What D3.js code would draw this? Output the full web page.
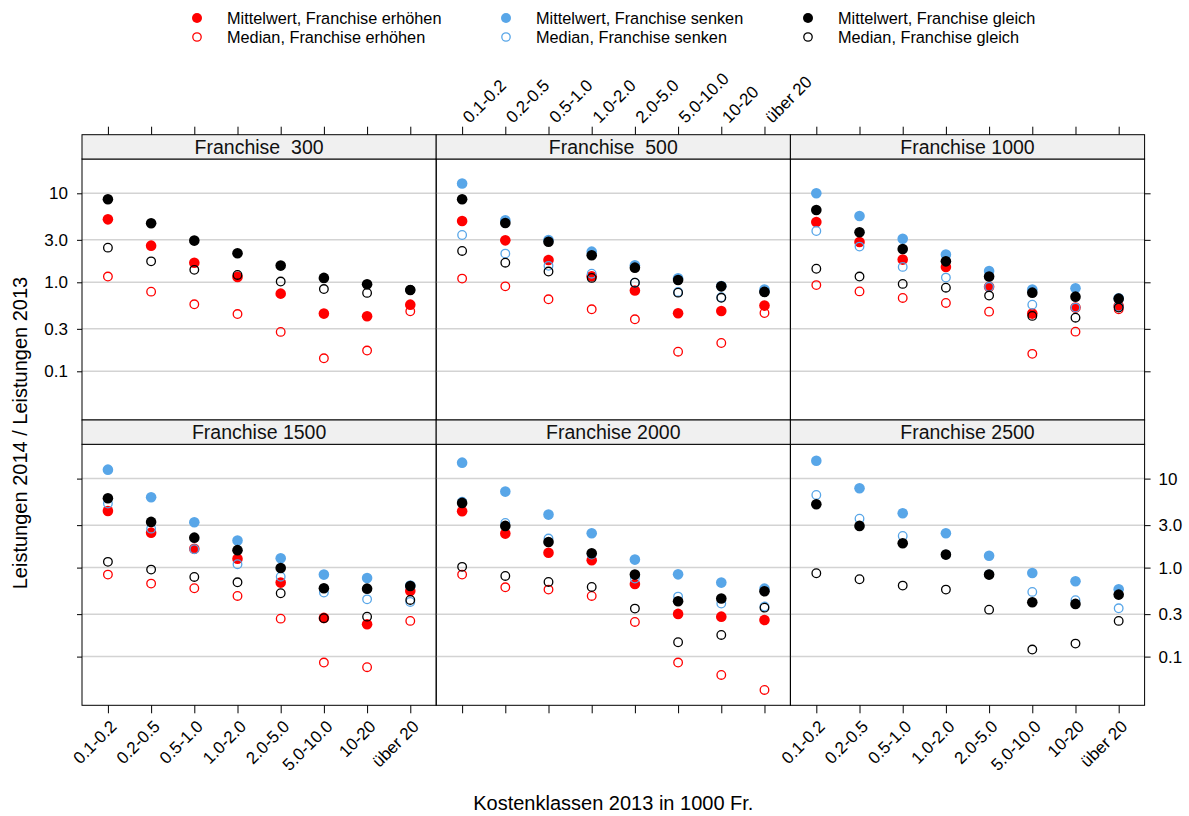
<!DOCTYPE html>
<html>
<head>
<meta charset="utf-8">
<script src="https://cdn.jsdelivr.net/npm/d3@7"></script>
<style>
  html, body { margin: 0; padding: 0; background: #fff; }
  svg { display: block; font-family: "Liberation Sans", Arial, Helvetica, sans-serif; }
</style>
</head>
<body>
<svg id="chart" width="1189" height="816"></svg>
<script>
// Cost classes 2013 (in 1000 Fr.) and franchise levels
const classes = ["0.1-0.2", "0.2-0.5", "0.5-1.0", "1.0-2.0", "2.0-5.0", "5.0-10.0", "10-20", "über 20"];
const franchises = [300, 500, 1000, 1500, 2000, 2500];
const stripLabels = ["Franchise  300", "Franchise  500", "Franchise 1000", "Franchise 1500", "Franchise 2000", "Franchise 2500"];
const yTicks = [10, 3, 1, 0.3, 0.1];
const yTickLabels = ["10", "3.0", "1.0", "0.3", "0.1"];

// Ratio Leistungen 2014 / 2013, one row per franchise (null = group not present)
const meanUp = [
  [5.1, 2.58, 1.66, 1.15, 0.746, 0.445, 0.415, 0.561],
  [4.89, 2.96, 1.78, 1.17, 0.81, 0.449, 0.476, 0.547],
  [4.76, 2.84, 1.80, 1.49, 0.89, 0.445, 0.52, 0.54],
  [4.33, 2.47, 1.63, 1.26, 0.678, 0.272, 0.231, 0.547],
  [4.3, 2.41, 1.47, 1.21, 0.655, 0.302, 0.281, 0.258],
  null
];
const medianUp = [
  [1.16, 0.785, 0.566, 0.44, 0.277, 0.14, 0.171, 0.472],
  [1.1, 0.90, 0.644, 0.497, 0.384, 0.166, 0.208, 0.452],
  [0.93, 0.79, 0.667, 0.586, 0.468, 0.157, 0.279, 0.497],
  [0.834, 0.661, 0.586, 0.48, 0.267, 0.0857, 0.076, 0.252],
  [0.834, 0.601, 0.566, 0.48, 0.245, 0.0857, 0.0622, 0.0422],
  null
];
const meanDown = [
  null,
  [12.9, 4.97, 2.99, 2.21, 1.55, 1.11, 0.91, 0.83],
  [10.0, 5.56, 3.09, 2.05, 1.34, 0.83, 0.856, 0.66],
  [12.6, 6.17, 3.23, 2.01, 1.27, 0.834, 0.765, 0.63],
  [15.1, 7.14, 3.94, 2.43, 1.23, 0.84, 0.678, 0.58],
  [15.9, 7.79, 4.08, 2.43, 1.36, 0.871, 0.702, 0.571]
];
const medianDown = [
  null,
  [3.4, 2.1, 1.53, 1.25, 0.99, 0.78, 0.68, 0.80],
  [3.77, 2.52, 1.49, 1.13, 0.89, 0.56, 0.52, 0.53],
  [5.24, 2.74, 1.61, 1.09, 0.79, 0.524, 0.44, 0.411],
  [5.51, 3.18, 2.12, 1.40, 0.752, 0.472, 0.394, 0.365],
  [6.55, 3.55, 2.27, 1.40, 0.84, 0.533, 0.43, 0.349]
];
const meanSame = [
  [8.56, 4.6, 2.94, 2.12, 1.54, 1.12, 0.95, 0.82],
  [8.56, 4.64, 2.86, 2.01, 1.46, 1.06, 0.90, 0.78],
  [6.5, 3.65, 2.37, 1.72, 1.16, 0.765, 0.69, 0.655],
  [6.01, 3.26, 2.17, 1.57, 0.99, 0.586, 0.58, 0.622],
  [5.33, 2.94, 1.94, 1.45, 0.834, 0.418, 0.449, 0.542],
  [5.15, 2.94, 1.88, 1.40, 0.834, 0.408, 0.391, 0.497]
];
const medianSame = [
  [2.45, 1.72, 1.38, 1.21, 1.02, 0.84, 0.76, 0.82],
  [2.25, 1.66, 1.32, 1.12, 0.99, 0.765, 0.67, 0.78],
  [1.42, 1.16, 0.96, 0.87, 0.71, 0.419, 0.40, 0.52],
  [1.16, 0.95, 0.785, 0.684, 0.515, 0.27, 0.281, 0.433],
  [1.02, 0.806, 0.69, 0.606, 0.346, 0.145, 0.175, 0.355],
  [0.864, 0.74, 0.628, 0.566, 0.337, 0.12, 0.14, 0.252]
];

const red = "#FF0000", blue = "#58A6E8", black = "#000000";

// Drawing order of the groups (later ones on top)
const series = [
  { name: "Mittelwert, Franchise erhöhen", values: meanUp, color: red, filled: true },
  { name: "Median, Franchise erhöhen", values: medianUp, color: red, filled: false },
  { name: "Mittelwert, Franchise senken", values: meanDown, color: blue, filled: true },
  { name: "Median, Franchise senken", values: medianDown, color: blue, filled: false },
  { name: "Mittelwert, Franchise gleich", values: meanSame, color: black, filled: true },
  { name: "Median, Franchise gleich", values: medianSame, color: black, filled: false }
];

const svg = d3.select("#chart");

// Panel geometry
const left = 82, colW = 354.2, stripH = 24.3, panelH = 261, top0 = 134.7;
const rowTop = r => top0 + r * (stripH + panelH);

const x = d3.scalePoint().domain(classes).range([0, colW]).padding(0.6);
const y = d3.scaleLog()
  .domain([Math.pow(10, -(panelH - 123.3) / 89), Math.pow(10, 123.3 / 89)])
  .range([panelH, 0]);

const rFilled = 5.3, rOpen = 4.3;
const tickFont = 17;

function styleAxis(g) {
  g.select(".domain").remove();
  g.selectAll(".tick line").attr("stroke", "#000").attr("stroke-width", 1);
  g.selectAll(".tick text").attr("fill", "#000").attr("font-size", tickFont)
    .attr("font-family", "'Liberation Sans', Arial, sans-serif");
}

franchises.forEach((f, i) => {
  const col = i % 3, row = Math.floor(i / 3);
  const px = left + col * colW;
  const sy = rowTop(row);
  const py = sy + stripH;

  const g = svg.append("g").attr("transform", `translate(${px},${py})`);

  // grid lines at the labelled ticks
  g.selectAll("line.grid").data(yTicks).join("line")
    .attr("class", "grid")
    .attr("x1", 0).attr("x2", colW)
    .attr("y1", d => y(d)).attr("y2", d => y(d))
    .attr("stroke", "#d3d3d3").attr("stroke-width", 1.5);

  // points
  series.forEach(s => {
    const vals = s.values[i];
    if (!vals) return;
    g.selectAll(null).data(vals.map((v, k) => ({ c: classes[k], v }))).join("circle")
      .attr("cx", d => x(d.c))
      .attr("cy", d => y(d.v))
      .attr("r", s.filled ? rFilled : rOpen)
      .attr("fill", s.filled ? s.color : "none")
      .attr("stroke", s.color)
      .attr("stroke-width", s.filled ? 0 : 1.3);
  });

  // panel border
  g.append("rect").attr("x", 0).attr("y", 0).attr("width", colW).attr("height", panelH)
    .attr("fill", "none").attr("stroke", "#000").attr("stroke-width", 1);

  // strip
  const st = svg.append("g").attr("transform", `translate(${px},${sy})`);
  st.append("rect").attr("width", colW).attr("height", stripH)
    .attr("fill", "#f0f0f0").attr("stroke", "#000").attr("stroke-width", 1);
  st.append("text").attr("x", colW / 2).attr("y", stripH / 2 + 7)
    .attr("text-anchor", "middle").attr("font-size", 19.5).attr("fill", "#111")
    .style("white-space", "pre")
    .text(stripLabels[i]);

  // left axis (left column)
  if (col === 0) {
    const ax = g.append("g").call(d3.axisLeft(y).tickValues(yTicks).tickSize(5).tickPadding(9)
      .tickFormat((d, k) => row === 0 ? yTickLabels[k] : ""));
    styleAxis(ax);
  }
  // right axis (right column)
  if (col === 2) {
    const ax = g.append("g").attr("transform", `translate(${colW},0)`)
      .call(d3.axisRight(y).tickValues(yTicks).tickSize(6).tickPadding(8)
        .tickFormat((d, k) => row === 1 ? yTickLabels[k] : ""));
    styleAxis(ax);
  }
  // top axis (top row, above strip)
  if (row === 0) {
    const ax = svg.append("g").attr("transform", `translate(${px},${sy})`)
      .call(d3.axisTop(x).tickSize(8).tickFormat(""));
    styleAxis(ax);
    if (col === 1) {
      ax.selectAll(".tick").append("text")
        .attr("transform", "translate(3,-15) rotate(-45)")
        .attr("text-anchor", "start")
        .attr("dy", "0.35em")
        .attr("font-size", tickFont).attr("fill", "#000")
        .text(d => d);
    }
  }
  // bottom axis (bottom row)
  if (row === 1) {
    const ax = g.append("g").attr("transform", `translate(0,${panelH})`)
      .call(d3.axisBottom(x).tickSize(8).tickFormat(""));
    styleAxis(ax);
    if (col !== 1) {
      ax.selectAll(".tick").append("text")
        .attr("transform", "translate(5,18) rotate(-45)")
        .attr("text-anchor", "end")
        .attr("dy", "0.35em")
        .attr("font-size", tickFont).attr("fill", "#000")
        .text(d => d);
    }
  }
});

// axis titles
svg.append("text").attr("x", left + 1.5 * colW).attr("y", 810)
  .attr("text-anchor", "middle").attr("font-size", 20).text("Kostenklassen 2013 in 1000 Fr.");
svg.append("text").attr("transform", "translate(27,433) rotate(-90)")
  .attr("text-anchor", "middle").attr("font-size", 20).text("Leistungen 2014 / Leistungen 2013");

// legend: three columns (erhöhen, senken, gleich), rows Mittelwert / Median
const legendX = [197, 506, 808];
const legendY = [18, 37];
const lg = svg.append("g");
series.forEach((s, k) => {
  const cx = legendX[Math.floor(k / 2)], cy = legendY[k % 2];
  lg.append("circle").attr("cx", cx).attr("cy", cy)
    .attr("r", s.filled ? 5 : 4.2)
    .attr("fill", s.filled ? s.color : "none")
    .attr("stroke", s.color).attr("stroke-width", s.filled ? 0 : 1.3);
  lg.append("text").attr("x", cx + 30).attr("y", cy + 5.5)
    .attr("font-size", 16.3).attr("fill", "#000").text(s.name);
});
</script>
</body>
</html>
